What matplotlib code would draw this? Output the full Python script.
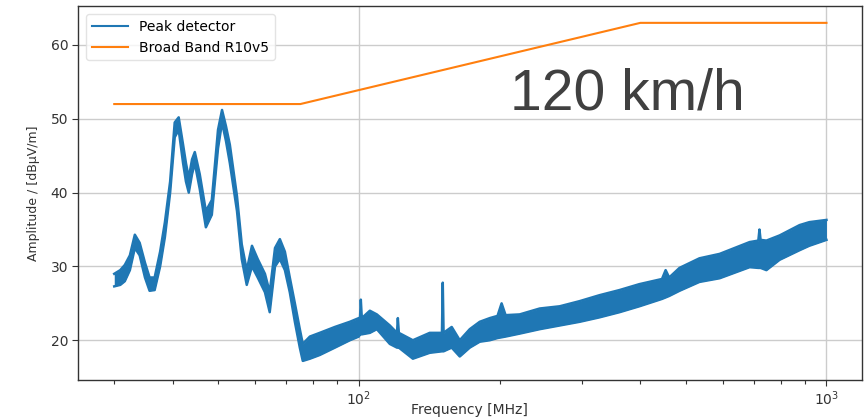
import numpy as np
import matplotlib
matplotlib.use('Agg')
import matplotlib.pyplot as plt
from matplotlib.ticker import LogLocator, NullFormatter

# limit line (Broad Band R10v5)
limit_freq = [30, 75, 400, 1000]
limit_amp = [52, 52, 63, 63]

peak_freq = [30.0, 30.9, 31.6, 32.4, 33.2, 34.0, 34.9, 35.7, 36.6, 37.6,
             38.5, 39.5, 40.4, 41.2, 42.1, 42.7, 43.3, 44.0, 44.6, 45.7,
             47.1, 48.5, 50.0, 51.0, 52.0, 53.0, 54.9, 56.2, 57.6, 59.1,
             60.8, 63.0, 64.5, 66.2, 67.8, 69.5, 71.2, 73.0, 74.8, 75.9,
             78.6, 82.5, 88.9, 95.7, 100.0, 100.6, 101.0, 101.5, 105.6, 109.3,
             116.5, 120.7, 121.2, 121.8, 130.5, 141.8, 150.6, 151.2, 151.8, 158.0,
             164.4, 172.7, 181.4, 190.6, 198, 202, 206, 220.8, 243.7, 268.9,
             296.7, 327, 361, 398, 445, 453, 461, 485, 535, 591,
             685, 715, 719, 723, 744, 794, 876, 919, 1000]
peak_lo = [27.3, 27.5, 28.0, 29.5, 32.5, 31.5, 28.5, 26.7, 26.8, 30.0,
           34.0, 40.0, 47.5, 48.5, 44.0, 41.5, 40.0, 42.5, 44.0, 40.5,
           35.3, 37.0, 46.0, 49.5, 47.0, 44.0, 37.5, 31.0, 27.5, 30.0,
           28.5, 26.5, 23.8, 30.0, 31.0, 29.5, 26.5, 22.5, 19.0, 17.2,
           17.5, 18.0, 19.0, 20.0, 20.5, 20.8, 20.8, 20.8, 21.0, 21.5,
           19.5, 19.0, 19.0, 19.0, 17.5, 18.3, 18.5, 18.5, 18.5, 19.0,
           17.8, 19.0, 19.8, 20.0, 20.3, 20.4, 20.5, 20.9, 21.5, 22.0,
           22.5, 23.1, 23.8, 24.6, 25.6, 25.8, 26.0, 26.7, 27.9, 28.4,
           29.9, 29.8, 29.8, 29.8, 29.5, 30.9, 32.2, 32.8, 33.6]
peak_hi = [29.0, 29.5, 30.2, 31.5, 34.3, 33.2, 30.5, 28.5, 28.5, 32.0,
           36.0, 41.5, 49.5, 50.2, 46.5, 44.0, 42.0, 44.5, 45.5, 42.5,
           37.5, 39.0, 48.5, 51.2, 49.0, 46.5, 39.5, 33.0, 29.5, 32.8,
           31.0, 29.0, 26.5, 32.5, 33.7, 32.0, 28.5, 25.0, 21.5, 19.5,
           20.5, 21.0, 21.8, 22.5, 23.0, 23.0, 25.5, 23.0, 24.0, 23.5,
           22.0, 21.0, 23.0, 21.0, 20.0, 21.0, 21.0, 27.8, 21.0, 21.8,
           20.0, 21.5, 22.5, 23.0, 23.3, 25.0, 23.4, 23.5, 24.3, 24.6,
           25.3, 26.1, 26.8, 27.6, 28.3, 29.5, 28.5, 29.8, 31.1, 31.7,
           33.3, 33.5, 35.0, 33.6, 33.5, 34.2, 35.6, 36.0, 36.3]

blue = '#1f77b4'
orange = '#ff7f0e'
dark = '#333333'

fig = plt.figure(figsize=(8.67, 4.2), dpi=100)
ax = fig.add_axes([0.090, 0.095, 0.904, 0.891])

# blue trace: filled band plus its edges
ax.fill_between(peak_freq, peak_lo, peak_hi, color=blue, linewidth=0)
ax.plot(peak_freq, peak_lo, color=blue, linewidth=1.8)
ax.plot(peak_freq, peak_hi, color=blue, linewidth=1.8)
ax.plot([], [], color=blue, linewidth=1.5, label='Peak detector')
ax.plot(limit_freq, limit_amp, color=orange, linewidth=1.5, label='Broad Band R10v5')

ax.set_xscale('log')
ax.set_xlim(25.1, 1190)
ax.set_ylim(14.6, 65.3)
ax.set_yticks([20, 30, 40, 50, 60])
ax.xaxis.set_minor_locator(LogLocator(base=10, subs=np.arange(2, 10)))
ax.xaxis.set_minor_formatter(NullFormatter())

ax.grid(True, which='major', color='#cccccc', linewidth=1)
ax.set_axisbelow(True)
for sp in ax.spines.values():
    sp.set_color(dark)
    sp.set_linewidth(1)
ax.tick_params(which='major', direction='out', length=4, color=dark, labelcolor=dark, labelsize=10, pad=3)
ax.tick_params(axis='x', which='minor', direction='out', length=3, width=0.8, color=dark)
ax.tick_params(axis='y', which='minor', left=False)

ax.set_xlabel('Frequency [MHz]', fontsize=10, color=dark, va='center')
ax.xaxis.set_label_coords(0.5, -0.08)
ax.set_ylabel('Amplitude / [dBµV/m]', fontsize=9, color=dark, labelpad=8)

ax.text(0.551, 0.722, '120 km/h', transform=ax.transAxes, fontsize=41,
        family='Liberation Sans', color='#404040', ha='left', va='baseline')

leg = ax.legend(loc='upper left', fontsize=10, frameon=True, fancybox=True,
                borderaxespad=0.6, handlelength=2.6)
leg.get_frame().set_edgecolor('#dddddd')

fig.savefig('out.png', dpi=100)
